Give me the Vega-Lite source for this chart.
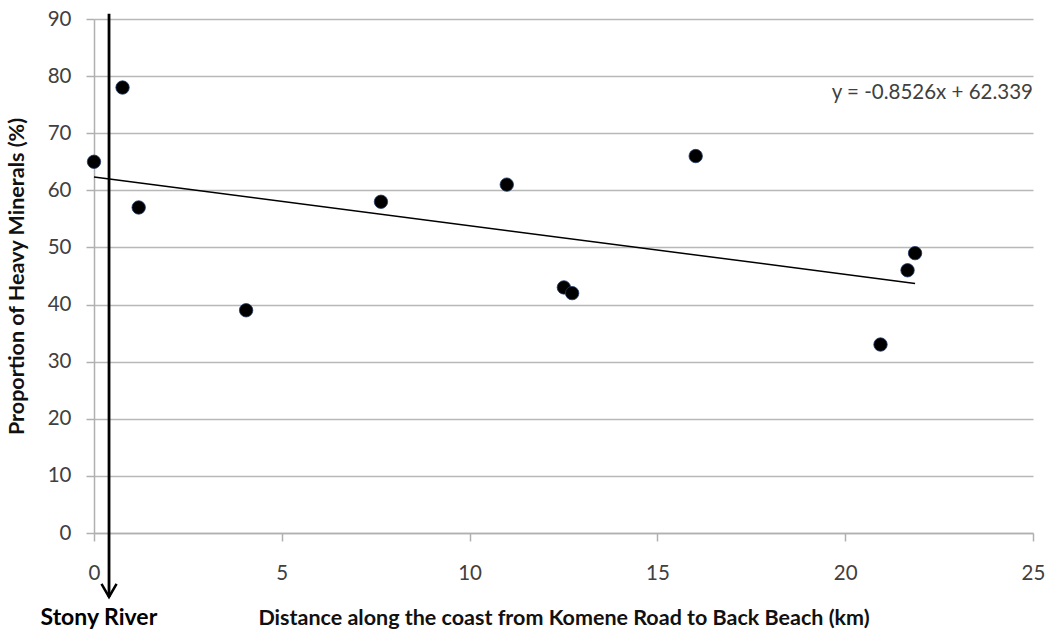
{
  "$schema": "https://vega.github.io/schema/vega-lite/v6.json",
  "width": 939,
  "height": 514,
  "autosize": {"type": "none"},
  "padding": {"left": 94, "top": 19, "right": 17, "bottom": 98},
  "background": "white",
  "config": {
    "view": {"stroke": null},
    "font": "Lato",
    "axis": {
      "domainColor": "#b0b0b0",
      "domainWidth": 1.5,
      "tickColor": "#b0b0b0",
      "tickWidth": 1.5,
      "tickSize": 8,
      "gridColor": "#b8b8b8",
      "gridWidth": 1.5,
      "labelFont": "Lato",
      "labelFontSize": 20.5,
      "labelColor": "#404040",
      "labelFlush": false,
      "titleFont": "Lato",
      "titleFontSize": 21.5,
      "titleFontWeight": "bold",
      "titleColor": "#111111"
    }
  },
  "datasets": {
    "samples": [
      {"distance": 0, "heavy": 65},
      {"distance": 0.76, "heavy": 78},
      {"distance": 1.19, "heavy": 57},
      {"distance": 4.05, "heavy": 39},
      {"distance": 7.64, "heavy": 58},
      {"distance": 10.99, "heavy": 61},
      {"distance": 12.51, "heavy": 43},
      {"distance": 12.73, "heavy": 42},
      {"distance": 16.02, "heavy": 66},
      {"distance": 20.94, "heavy": 33},
      {"distance": 21.66, "heavy": 46},
      {"distance": 21.86, "heavy": 49}
    ],
    "trend": [
      {"distance": 0, "heavy": 62.339},
      {"distance": 21.86, "heavy": 43.70}
    ],
    "river": [
      {"distance": 0.4, "top": 90.9, "bottom": -11.2, "label_x": 0.13, "label_y": -16.1, "label": "Stony River"}
    ],
    "equation": [
      {"distance": 25, "heavy": 77, "label": "y = -0.8526x + 62.339"}
    ]
  },
  "layer": [
    {
      "data": {"name": "trend"},
      "mark": {"type": "line", "color": "#000000", "strokeWidth": 1.5},
      "encoding": {
        "x": {
          "field": "distance", "type": "quantitative",
          "scale": {"domain": [0, 25], "nice": false, "zero": false},
          "axis": {
            "values": [0, 5, 10, 15, 20, 25],
            "grid": false,
            "labelPadding": 22,
            "title": "Distance along the coast from Komene Road to Back Beach (km)",
            "titlePadding": 24
          }
        },
        "y": {
          "field": "heavy", "type": "quantitative",
          "scale": {"domain": [0, 90], "nice": false, "zero": false},
          "axis": {
            "values": [0, 10, 20, 30, 40, 50, 60, 70, 80, 90],
            "grid": true,
            "labelPadding": 15,
            "title": "Proportion of Heavy Minerals (%)",
            "titlePadding": 19
          }
        }
      }
    },
    {
      "data": {"name": "samples"},
      "mark": {"type": "point", "filled": true, "shape": "circle", "size": 180, "fill": "#000000", "stroke": "#1f3864", "strokeWidth": 0.8, "opacity": 1},
      "encoding": {
        "x": {"field": "distance", "type": "quantitative"},
        "y": {"field": "heavy", "type": "quantitative"}
      }
    },
    {
      "data": {"name": "river"},
      "mark": {"type": "rule", "color": "#000000", "strokeWidth": 2.8, "clip": false},
      "encoding": {
        "x": {"field": "distance", "type": "quantitative"},
        "y": {"field": "top", "type": "quantitative"},
        "y2": {"field": "bottom"}
      }
    },
    {
      "data": {"name": "river"},
      "mark": {"type": "point", "shape": "M-0.58,-1L0,0L0.58,-1", "size": 676, "filled": false, "stroke": "#000000", "strokeWidth": 2.5, "opacity": 1, "clip": false},
      "encoding": {
        "x": {"field": "distance", "type": "quantitative"},
        "y": {"field": "bottom", "type": "quantitative"}
      }
    },
    {
      "data": {"name": "river"},
      "mark": {"type": "text", "font": "Lato", "fontSize": 23, "fontWeight": "bold", "color": "#000000", "align": "center", "baseline": "alphabetic", "clip": false},
      "encoding": {
        "x": {"field": "label_x", "type": "quantitative"},
        "y": {"field": "label_y", "type": "quantitative"},
        "text": {"field": "label"}
      }
    },
    {
      "data": {"name": "equation"},
      "mark": {"type": "text", "font": "Lato", "fontSize": 20.5, "color": "#404040", "align": "right", "baseline": "middle"},
      "encoding": {
        "x": {"field": "distance", "type": "quantitative"},
        "y": {"field": "heavy", "type": "quantitative"},
        "text": {"field": "label"}
      }
    }
  ]
}
